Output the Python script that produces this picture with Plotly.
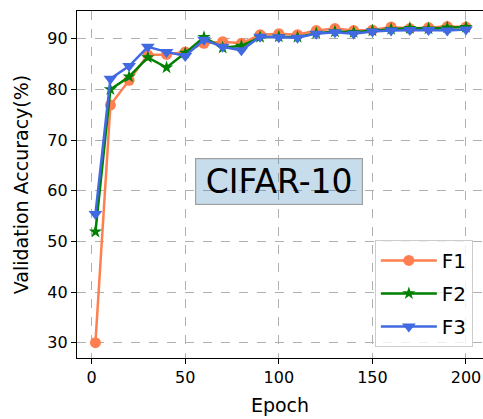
import plotly.graph_objects as go

epochs = [2, 10, 20, 30, 40, 50, 60, 70, 80, 90, 100, 110, 120, 130, 140, 150, 160, 170, 180, 190, 200]
f1 = [30.0, 76.9, 81.8, 86.8, 86.9, 87.4, 89.1, 89.4, 89.1, 90.8, 91.0, 90.8, 91.6, 92.0, 91.6, 91.7, 92.3, 92.0, 92.2, 92.4, 92.3]
f2 = [51.9, 80.0, 82.5, 86.3, 84.3, 87.2, 90.3, 88.2, 88.6, 90.3, 90.4, 90.3, 91.1, 91.4, 91.3, 91.6, 91.9, 92.1, 92.0, 92.2, 92.3]
f3 = [55.4, 82.1, 84.6, 88.4, 87.4, 86.6, 89.8, 88.4, 87.7, 90.4, 90.3, 90.2, 91.0, 91.3, 91.0, 91.4, 91.6, 91.7, 91.7, 91.6, 91.8]

x_ticks = [0, 50, 100, 150, 200]
y_ticks = [30, 40, 50, 60, 70, 80, 90]

FONT = "DejaVu Sans"

fig = go.Figure()
fig.add_trace(go.Scatter(x=epochs, y=f1, name="F1", mode="lines+markers", legendgroup="g1",
                         line=dict(color="#FF7F50", width=2.5),
                         marker=dict(symbol="circle", size=11, color="#FF7F50")))
fig.add_trace(go.Scatter(x=epochs, y=f2, name="F2", mode="lines+markers", legendgroup="g2",
                         line=dict(color="#008000", width=2.5),
                         marker=dict(symbol="star", size=10, color="#008000")))
fig.add_trace(go.Scatter(x=epochs, y=f3, name="F3", mode="lines+markers", legendgroup="g3",
                         line=dict(color="#4169E1", width=2.5),
                         marker=dict(symbol="triangle-down", size=12, color="#4169E1")))

fig.add_annotation(x=100, y=61.8, xref="x", yref="y", text="CIFAR-10", showarrow=False,
                   font=dict(family=FONT, size=33, color="black"),
                   width=164, height=43,
                   bgcolor="rgba(31,119,180,0.25)", bordercolor="#a0a0a0", borderwidth=1.2,
                   borderpad=1)

fig.update_layout(
    width=483, height=419,
    margin=dict(l=77, r=0, t=11, b=61, autoexpand=False),
    paper_bgcolor="white", plot_bgcolor="white",
    font=dict(family=FONT, color="black"),
    showlegend=True,
    legend=dict(x=0.975, y=0.032, xanchor="right", yanchor="bottom",
                bgcolor="rgba(255,255,255,0.8)", bordercolor="#cccccc", borderwidth=1,
                font=dict(family=FONT, size=20), itemwidth=56, tracegroupgap=4),
    xaxis=dict(range=[-7.85, 209.1], tickvals=x_ticks, ticks="outside", ticklen=5, tickwidth=1.2,
               tickcolor="black", showline=True, linecolor="black", linewidth=1.2, mirror=True,
               showgrid=True, gridcolor="#b0b0b0", griddash="dash", gridwidth=1.3, zeroline=False,
               tickfont=dict(family=FONT, size=16),
               title=dict(text="Epoch", font=dict(family=FONT, size=19), standoff=12)),
    yaxis=dict(range=[26.98, 95.47], tickvals=y_ticks, ticks="outside", ticklen=5, tickwidth=1.2,
               tickcolor="black", showline=True, linecolor="black", linewidth=1.2, mirror=False,
               showgrid=True, gridcolor="#b0b0b0", griddash="dash", gridwidth=1.3, zeroline=False,
               tickfont=dict(family=FONT, size=16),
               title=dict(text="Validation Accuracy(%)", font=dict(family=FONT, size=19), standoff=13)),
)

fig.write_html("out.html", post_script="document.body.style.margin='0';",
               config={"displayModeBar": False})
